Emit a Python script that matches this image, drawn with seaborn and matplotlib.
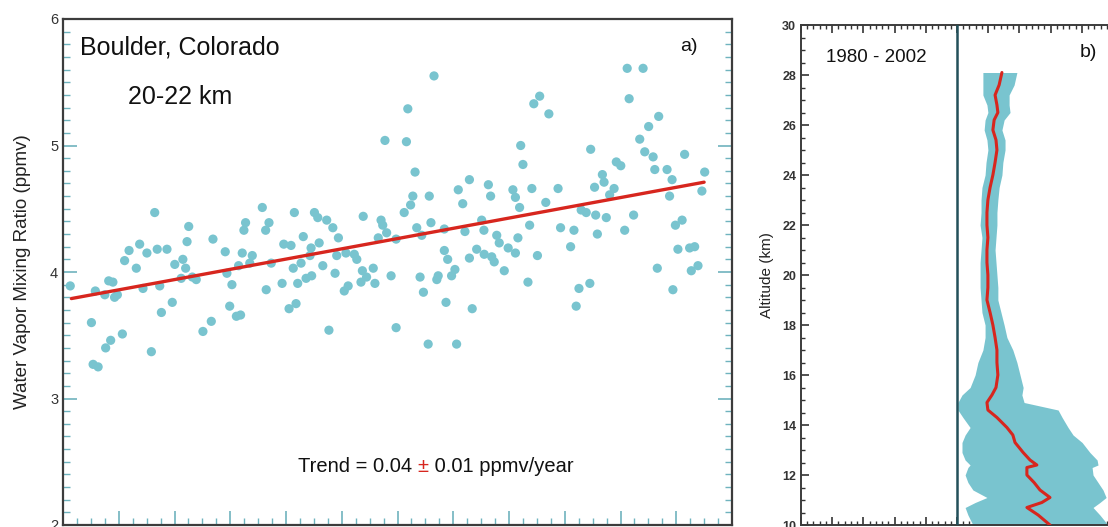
import numpy as np
import pandas as pd
import matplotlib
matplotlib.use("Agg")
import matplotlib.pyplot as plt
from matplotlib.ticker import MultipleLocator
import seaborn as sns

# Painel a) Boulder, 20-22 km: razão de mistura por sondagem (ppmv)
anos = [
    1980.26, 1981.16, 1981.02, 1981.08, 1981.26, 1981.50, 1981.53, 1981.71, 1981.64, 1981.79,
    1981.85, 1981.95, 1982.13, 1982.21, 1982.37, 1982.63, 1982.75, 1982.87, 1983.01, 1983.17,
    1983.29, 1983.38, 1983.47, 1983.53, 1983.73, 1983.92, 1984.01, 1984.24, 1984.30, 1984.40,
    1984.45, 1984.51, 1984.64, 1984.78, 1985.02, 1985.32, 1985.38, 1985.82, 1985.88, 1985.98,
    1986.06, 1986.22, 1986.37, 1986.30, 1986.43, 1986.49, 1986.55, 1986.79, 1986.70, 1987.15,
    1987.27, 1987.39, 1987.29, 1987.47, 1987.86, 1987.92, 1988.11,
    1993.31, 1992.37, 1991.55, 1992.32, 1992.63, 1992.55, 1992.47, 1993.14, 1994.18, 1994.58,
    1994.34, 1995.26, 1995.34,
    1988.30, 1989.02, 1989.14, 1989.46, 1989.68, 1989.88, 1990.77, 1991.41, 1991.47, 1991.61,
    1991.31, 1991.95, 1992.24, 1992.69, 1992.87, 1993.20, 1993.68, 1994.42, 1995.02, 1995.10,
    1995.56, 1995.65, 1995.97, 1988.18, 1988.62, 1988.90, 1989.19, 1988.86, 1988.54, 1988.26,
    1988.42, 1988.36, 1988.72, 1988.92, 1989.32, 1989.82, 1989.76, 1990.15, 1990.45, 1990.54,
    1990.09, 1990.23, 1990.69, 1990.74, 1990.89, 1991.13, 1991.19, 1989.54, 1991.77, 1991.95,
    1992.81, 1992.93, 1993.10, 1993.46, 1993.41, 1993.68, 1993.80, 1993.94, 1994.06, 1993.74,
    1994.12, 1994.58, 1994.84, 1995.11, 1995.38, 1995.47, 1994.68, 1995.83,
    2000.24, 2000.81, 2000.31, 1997.10, 1996.89, 1997.43, 2001.37, 2001.01, 2000.69, 2000.87,
    2001.17, 1996.42, 1996.50, 2002.30, 1998.93, 1999.85, 2000.01, 2001.23, 2001.67, 2001.85,
    2003.02, 1999.35, 1999.41, 1999.07, 1999.77, 1999.61, 1997.76, 1996.82, 1996.14, 1996.23,
    1996.38, 1997.32, 2001.76, 2002.92, 1998.59,
    1998.77, 1999.11, 1999.49, 2000.47, 1996.74, 1997.85, 1998.33, 1999.17, 2000.15, 2001.97,
    2002.21, 1996.32, 1996.23, 1997.02, 1998.21, 2002.06, 2002.48, 2002.66, 1996.68, 1998.51,
    1998.90, 1998.41, 2001.32, 2002.54, 2002.78, 2001.88,
]
razao = [
    3.89, 3.85, 3.60, 3.27, 3.25, 3.82, 3.40, 3.46, 3.93, 3.92,
    3.80, 3.82, 3.51, 4.09, 4.17, 4.03, 4.22, 3.87, 4.15, 3.37,
    4.47, 4.18, 3.89, 3.68, 4.18, 3.76, 4.06, 3.95, 4.10, 4.03,
    4.24, 4.36, 3.96, 3.94, 3.53, 3.61, 4.26, 4.16, 3.99, 3.73,
    3.90, 3.65, 3.66, 4.05, 4.15, 4.33, 4.39, 4.13, 4.07, 4.51,
    4.33, 4.39, 3.86, 4.07, 3.91, 4.22, 3.71,
    5.55, 5.29, 5.04, 5.03, 4.79, 4.60, 4.53, 4.60, 4.65, 4.73,
    4.54, 4.69, 4.60,
    4.47, 4.47, 4.43, 4.41, 4.35, 4.27, 4.44, 4.41, 4.37, 4.31,
    4.27, 4.26, 4.47, 4.35, 4.29, 4.39, 4.34, 4.32, 4.41, 4.33,
    4.29, 4.23, 4.19, 4.21, 4.28, 4.19, 4.23, 4.13, 4.07, 4.03,
    3.91, 3.75, 3.95, 3.97, 4.05, 4.13, 3.99, 4.15, 4.14, 4.10,
    3.85, 3.89, 3.92, 4.01, 3.96, 4.03, 3.91, 3.54, 3.97, 3.56,
    3.96, 3.84, 3.43, 3.97, 3.94, 4.17, 4.10, 3.97, 4.02, 3.76,
    3.43, 4.11, 4.18, 4.14, 4.12, 4.08, 3.71, 4.01,
    5.61, 5.61, 5.37, 5.39, 5.33, 5.25, 5.23, 5.15, 5.05, 4.95,
    4.91, 5.00, 4.85, 4.93, 4.97, 4.87, 4.84, 4.81, 4.81, 4.73,
    4.79, 4.77, 4.71, 4.67, 4.66, 4.61, 4.66, 4.66, 4.65, 4.59,
    4.51, 4.55, 4.60, 4.64, 4.49,
    4.47, 4.45, 4.43, 4.45, 4.37, 4.35, 4.33, 4.30, 4.33, 4.37,
    4.41, 4.27, 4.15, 4.13, 4.20, 4.18, 4.19, 4.20, 3.92, 3.87,
    3.91, 3.73, 4.03, 4.01, 4.05, 3.86,
]

# reta de tendência (0.04 ppmv/ano)
tend_anos = [1980.3, 2003.0]
tend_vals = [3.79, 4.71]

# Painel b) perfil da tendência (%/ano) com a faixa de incerteza
altitude = [28.1, 27.6, 27.2, 26.8, 26.5, 26.2, 25.8, 25.4, 25.0, 24.5,
            24.0, 23.5, 23.0, 22.5, 22.0, 21.5, 21.0, 20.5, 20.0, 19.5,
            19.0, 18.5, 18.0, 17.5, 17.0, 16.5, 16.0, 15.5, 15.2, 14.9,
            14.6, 14.3, 13.9, 13.6, 13.3, 12.9, 12.6, 12.4, 12.3, 12.0,
            11.7, 11.4, 11.1, 10.9, 10.7, 10.4, 10.0]
tendencia = [1.44, 1.35, 1.22, 1.28, 1.31, 1.19, 1.15, 1.25, 1.28, 1.22,
             1.15, 1.06, 0.99, 0.96, 0.96, 0.99, 0.96, 0.96, 0.99, 0.99,
             0.96, 1.06, 1.15, 1.22, 1.28, 1.28, 1.31, 1.25, 1.12, 0.96,
             0.99, 1.28, 1.60, 1.79, 1.86, 2.12, 2.34, 2.56, 2.24, 2.24,
             2.47, 2.66, 2.98, 2.72, 2.24, 2.60, 2.98]
faixa_min = [0.83, 0.83, 0.83, 0.96, 0.99, 0.90, 0.87, 0.96, 0.99, 0.93,
             0.90, 0.80, 0.77, 0.77, 0.74, 0.80, 0.77, 0.74, 0.74, 0.74,
             0.77, 0.80, 0.90, 0.90, 0.83, 0.67, 0.58, 0.42, 0.16, 0.03,
             0.03, 0.19, 0.42, 0.26, 0.16, 0.16, 0.26, 0.42, 0.35, 0.26,
             0.35, 0.51, 0.96, 0.58, 0.26, 0.35, 0.51]
faixa_max = [1.92, 1.83, 1.67, 1.67, 1.70, 1.51, 1.44, 1.54, 1.54, 1.47,
             1.44, 1.35, 1.31, 1.28, 1.28, 1.25, 1.22, 1.25, 1.28, 1.31,
             1.31, 1.41, 1.51, 1.60, 1.79, 1.92, 2.02, 2.12, 2.08, 2.15,
             3.24, 3.37, 3.56, 3.72, 4.01, 4.26, 4.49, 4.52, 4.33, 4.36,
             4.52, 4.68, 4.78, 4.58, 4.36, 4.58, 4.84]

ciano = "#79C4CF"
vermelho = "#D7261E"
cinza = "#3c3c3c"

sns.set_style("ticks")
plt.rcParams["font.family"] = ["Liberation Sans", "DejaVu Sans"]

fig = plt.figure(figsize=(11.08, 5.27), dpi=100)
ax1 = fig.add_axes([63 / 1108, 2 / 527, 669 / 1108, 506 / 527])
ax2 = fig.add_axes([801 / 1108, 2 / 527, 312 / 1108, 500 / 527])

# ---- painel a ----
sns.scatterplot(x=anos, y=razao, ax=ax1, color=ciano, s=44, edgecolor="none", marker="o", zorder=2)
sns.lineplot(x=tend_anos, y=tend_vals, ax=ax1, color=vermelho, lw=2.4, zorder=3)
ax1.set_xlim(1980, 2004)
ax1.set_ylim(2, 6)
ax1.xaxis.set_major_locator(MultipleLocator(2))
ax1.xaxis.set_minor_locator(MultipleLocator(0.5))
ax1.yaxis.set_major_locator(MultipleLocator(1))
ax1.yaxis.set_minor_locator(MultipleLocator(0.1))
ax1.tick_params(which="both", direction="in", right=True, top=False, labelbottom=False,
                colors="#6fb3be", labelcolor="#333333", labelsize=10.5)
ax1.tick_params(which="major", length=10, width=1.2)
ax1.tick_params(which="minor", length=5, width=1.0)
ax1.set_ylabel("Water Vapor Mixing Ratio (ppmv)", fontsize=13.5, color="#222222", labelpad=14)
for s in ax1.spines.values():
    s.set_color(cinza)
    s.set_linewidth(1.6)

ax1.text(0.025, 0.943, "Boulder, Colorado", transform=ax1.transAxes, fontsize=18, va="center", color="#111111")
ax1.text(0.097, 0.846, "20-22 km", transform=ax1.transAxes, fontsize=18, va="center", color="#111111")
ax1.text(0.922, 0.945, "a)", transform=ax1.transAxes, fontsize=14, va="center", color="#111111")
t1 = ax1.text(0.351, 0.115, "Trend = 0.04 ", transform=ax1.transAxes, fontsize=14.5, va="center", color="#111111")
t2 = ax1.annotate("\u00b1", xy=(1, 0), xycoords=t1, va="bottom", ha="left", fontsize=14.5, color=vermelho)
ax1.annotate(" 0.01 ppmv/year", xy=(1, 0), xycoords=t2, va="bottom", ha="left", fontsize=14.5, color="#111111")

# ---- painel b ----
ax2.fill_betweenx(altitude, faixa_min, faixa_max, color=ciano, lw=0, zorder=1)
sns.lineplot(x=tendencia, y=altitude, orient="y", sort=False, estimator=None, ax=ax2,
             color=vermelho, lw=2.2, zorder=3)
ax2.axvline(0, color="#23505a", lw=1.8, zorder=4)
ax2.set_xlim(-5, 5)
ax2.set_ylim(10, 30)
ax2.xaxis.set_major_locator(MultipleLocator(1))
ax2.xaxis.set_minor_locator(MultipleLocator(0.2))
ax2.yaxis.set_major_locator(MultipleLocator(2))
ax2.yaxis.set_minor_locator(MultipleLocator(0.5))
ax2.tick_params(which="both", direction="in", top=True, right=False, labelbottom=False,
                colors="#333333", labelsize=9)
ax2.tick_params(which="major", length=6, width=1.2)
ax2.tick_params(which="minor", length=3, width=1.0)
for lab in ax2.get_yticklabels():
    lab.set_fontweight("bold")
ax2.set_ylabel("Altitude (km)", fontsize=11, color="#222222", labelpad=6)
for s in ax2.spines.values():
    s.set_color(cinza)
    s.set_linewidth(1.4)

ax2.text(-4.2, 28.68, "1980 - 2002", fontsize=13.5, va="center", color="#111111")
ax2.text(3.94, 28.9, "b)", fontsize=14, va="center", color="#111111")

fig.savefig("out.png", dpi=100)
